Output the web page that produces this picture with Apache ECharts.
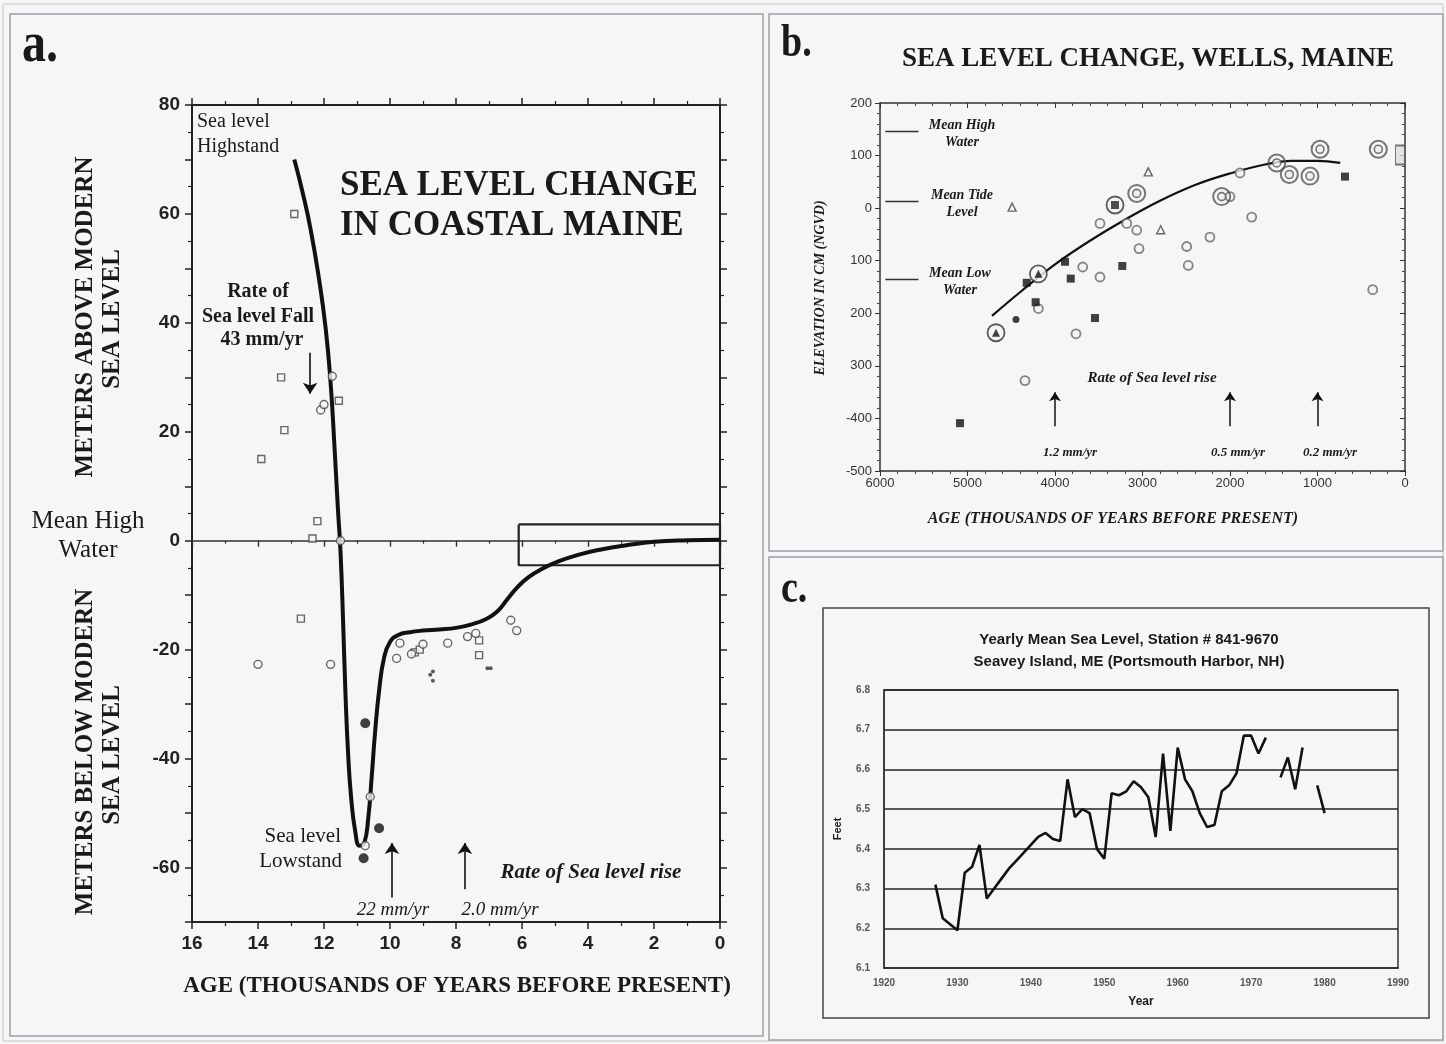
<!DOCTYPE html>
<html>
<head>
<meta charset="utf-8">
<script src="https://cdn.jsdelivr.net/npm/echarts@6.0.0/dist/echarts.min.js"></script>
<style>
  html, body { margin: 0; padding: 0; background: #f3f3f5; }
  #chart { width: 1446px; height: 1044px; }
</style>
</head>
<body>
<div id="chart"></div>
<script>
// ---------- panel a : sea level change in coastal Maine (age in ka, metres) ----------
const aYTicks = [80, 60, 40, 20, 0, -20, -40, -60];
const aCurve = [
  [12.9, 70], [12.65, 64], [12.4, 57], [12.15, 48], [11.95, 39], [11.8, 29], [11.68, 17],
  [11.58, 6], [11.5, -2], [11.42, -15], [11.35, -28], [11.27, -39], [11.18, -47],
  [11.05, -53.5], [10.92, -56], [10.78, -55.5], [10.66, -51], [10.55, -43], [10.45, -35],
  [10.32, -27], [10.18, -21.5], [10.0, -18.6], [9.75, -17.3], [9.4, -16.8], [9.0, -16.5],
  [8.5, -16.3], [8.0, -16.0], [7.5, -15.3], [7.1, -14.4], [6.75, -13], [6.45, -10.8],
  [6.15, -8.6], [5.8, -6.7], [5.4, -5.2], [4.9, -3.8], [4.3, -2.6], [3.6, -1.6],
  [2.8, -0.8], [2.0, -0.2], [1.0, 0.1], [0, 0.2]
];
const aSquares = [
  [12.9, 60], [13.3, 30], [13.2, 20.3], [13.9, 15], [11.55, 25.7], [12.2, 3.6], [12.35, 0.4],
  [12.7, -14.3], [9.25, -20.5], [9.1, -20], [7.3, -18.3], [7.3, -21]
];
const aCircles = [
  [11.75, 30.2], [12.1, 24], [12.0, 25], [11.5, 0], [14.0, -22.7], [11.8, -22.7],
  [10.6, -47], [10.75, -56], [9.8, -21.6], [9.7, -18.8], [9.35, -20.8], [9.0, -19],
  [8.25, -18.8], [7.65, -17.6], [7.4, -17], [6.34, -14.6], [6.16, -16.5]
];
const aFilled = [[10.75, -33.5], [10.33, -52.8], [10.8, -58.3]];
const aSmall = [[8.7, -24], [8.78, -24.6], [8.7, -25.7], [7.05, -23.4], [6.95, -23.4]];
const aBox = [[6.1, 3], [0, 3], [0, -4.5], [6.1, -4.5], [6.1, 3]];
// arrows: [age, from, to]
const aArrows = [[12.42, 34.5, 27], [9.94, -65.5, -55.5], [7.73, -64, -55.5]];

// ---------- panel b : Wells, Maine (age in years, elevation in cm) ----------
const bYTicks = [200, 100, 0, -100, -200, -300, -400, -500];
const bYTickText = ['200', '100', '0', '100', '200', '300', '-400', '-500'];
const bCurve = [
  [4720, -205], [4400, -160], [4000, -107], [3600, -62], [3200, -22], [2800, 14],
  [2400, 44], [2000, 66], [1600, 83], [1300, 90], [1000, 90], [740, 86]
];
const bOpenCircle = [
  [4190, -191], [4343, -328], [3760, -239], [3683, -112], [3486, -131], [3486, -29],
  [3180, -29], [3066, -42], [3040, -77], [2495, -73], [2477, -109], [2229, -55],
  [2000, 22], [1886, 67], [1752, -17], [369, -155]
];
const bDoubleCircle = [[3066, 28], [2095, 22], [1466, 86], [1322, 64], [1086, 61], [971, 112], [305, 112]];
const bFilledSquare = [[4323, -142], [3886, -102], [3820, -134], [4221, -179], [5086, -409], [3543, -209], [3231, -110], [686, 60]];
const bFilledCircle = [[4446, -212]];
const bTriangle = [[4490, 2], [2934, 69], [2792, -41]];
const bCircledTriangle = [[4674, -237], [4190, -125]];
const bCircledFilled = [[3314, 6]];
const bBar = [[57, 101]];
// tide datum levels (cm)
const bDatums = [146, 13, -135];
const bArrowAges = [4000, 2000, 1000];

// ---------- panel c : yearly mean sea level, Seavey Island ----------
const cYears = [];
for (let y = 1927; y <= 1980; y++) cYears.push(y);
const cLevel = [
  6.31, 6.225, 6.21, 6.195, 6.34, 6.355, 6.41, 6.275, 6.30, 6.325,
  6.35, 6.37, 6.39, 6.41, 6.43, 6.44, 6.425, 6.42, 6.575, 6.48,
  6.50, 6.49, 6.40, 6.375, 6.54, 6.535, 6.545, 6.57, 6.555, 6.53,
  6.43, 6.64, 6.445, 6.655, 6.575, 6.545, 6.49, 6.455, 6.46, 6.545,
  6.56, 6.59, 6.685, 6.685, 6.64, 6.68, null, 6.58, 6.63, 6.55,
  6.655, null, 6.56, 6.49
];

const serif = '"Liberation Serif", "Times New Roman", serif';
const sans = '"Liberation Sans", Arial, sans-serif';
const ink = '#1a1a1a';

function txt(x, y, text, font, align, extra) {
  return Object.assign({
    type: 'text', x: x, y: y, z: 20,
    style: { text: text, font: font, fill: ink, align: align || 'center', verticalAlign: 'middle' }
  }, extra || {});
}
function frame(x, y, w, h, stroke, lw) {
  return { type: 'rect', z: 1, shape: { x: x, y: y, width: w, height: h },
    style: { fill: 'none', stroke: stroke, lineWidth: lw } };
}

const chart = echarts.init(document.getElementById('chart'), null, { width: 1446, height: 1044 });

const open = (c) => ({ color: '#f7f7f9', borderColor: c, borderWidth: 1.4 });
const ringStyle = { color: 'rgba(0,0,0,0)', borderColor: '#555', borderWidth: 2 };
const plain = (v) => String(v);

const option = {
  backgroundColor: '#f6f6f8',
  animation: false,
  grid: [
    { left: 192, top: 105, width: 528, height: 817, outerBoundsMode: 'none' },
    { left: 880, top: 103, width: 525, height: 368, outerBoundsMode: 'none' },
    { left: 884, top: 690, width: 514, height: 278, outerBoundsMode: 'none',
      show: true, borderColor: '#333', borderWidth: 1.5, backgroundColor: 'transparent' },
    { left: 192, top: 105, width: 528, height: 817, outerBoundsMode: 'none' }
  ],
  xAxis: [
    { gridIndex: 0, type: 'value', inverse: true, min: 0, max: 16, interval: 2, position: 'bottom',
      axisLine: { onZero: false, lineStyle: { color: '#222', width: 2 } },
      axisTick: { length: 7, lineStyle: { color: '#222', width: 1.5 } },
      minorTick: { show: true, splitNumber: 2, length: 4, lineStyle: { color: '#222', width: 1.2 } },
      axisLabel: { margin: 12, color: '#222', fontSize: 19, fontWeight: 'bold', fontFamily: sans, formatter: plain },
      splitLine: { show: false } },
    { gridIndex: 0, type: 'value', inverse: true, min: 0, max: 16, interval: 2, position: 'top',
      axisLine: { onZero: false, lineStyle: { color: '#222', width: 2 } },
      axisTick: { length: 7, lineStyle: { color: '#222', width: 1.5 } },
      minorTick: { show: true, splitNumber: 2, length: 4, lineStyle: { color: '#222', width: 1.2 } },
      axisLabel: { show: false }, splitLine: { show: false } },
    { gridIndex: 3, type: 'value', inverse: true, min: 0, max: 16, interval: 2,
      axisLine: { onZero: true, lineStyle: { color: '#333', width: 1.6 } },
      axisTick: { length: 6, lineStyle: { color: '#333', width: 1.4 } },
      minorTick: { show: true, splitNumber: 2, length: 3, lineStyle: { color: '#333', width: 1.2 } },
      axisLabel: { show: false }, splitLine: { show: false } },
    { gridIndex: 1, type: 'value', inverse: true, min: 0, max: 6000, interval: 1000, position: 'bottom',
      axisLine: { onZero: false, lineStyle: { color: '#333', width: 1.5 } },
      axisTick: { length: 5, lineStyle: { color: '#333' } },
      minorTick: { show: true, splitNumber: 5, length: 3, lineStyle: { color: '#444' } },
      axisLabel: { margin: 6, color: '#333', fontSize: 13, fontFamily: sans, formatter: plain },
      splitLine: { show: false } },
    { gridIndex: 1, type: 'value', inverse: true, min: 0, max: 6000, interval: 1000, position: 'top',
      axisLine: { onZero: false, lineStyle: { color: '#333', width: 1.5 } },
      axisTick: { inside: true, length: 5, lineStyle: { color: '#333' } },
      minorTick: { show: true, splitNumber: 5, length: 3, lineStyle: { color: '#444' } },
      axisLabel: { show: false }, splitLine: { show: false } },
    { gridIndex: 2, type: 'value', min: 1920, max: 1990, interval: 10,
      axisLine: { onZero: false, lineStyle: { color: '#333', width: 1.5 } },
      axisTick: { show: false },
      axisLabel: { margin: 10, color: '#555', fontSize: 10, fontWeight: 'bold', fontFamily: sans, formatter: plain },
      splitLine: { show: false } }
  ],
  yAxis: [
    { gridIndex: 0, type: 'value', min: -70, max: 80, interval: 10, position: 'left',
      axisLine: { show: true, onZero: false, lineStyle: { color: '#222', width: 2 } },
      axisTick: { show: true, length: 7, lineStyle: { color: '#222', width: 1.5 } },
      minorTick: { show: true, splitNumber: 2, length: 4, lineStyle: { color: '#222', width: 1.2 } },
      axisLabel: { margin: 12, color: '#222', fontSize: 19, fontWeight: 'bold', fontFamily: sans,
        formatter: (v) => (aYTicks.indexOf(v) >= 0 ? String(v) : '') },
      splitLine: { show: false } },
    { gridIndex: 0, type: 'value', min: -70, max: 80, interval: 10, position: 'right',
      axisLine: { show: true, onZero: false, lineStyle: { color: '#222', width: 2 } },
      axisTick: { show: true, length: 7, lineStyle: { color: '#222', width: 1.5 } },
      minorTick: { show: true, splitNumber: 2, length: 4, lineStyle: { color: '#222', width: 1.2 } },
      axisLabel: { show: false }, splitLine: { show: false } },
    { gridIndex: 3, type: 'value', min: -70, max: 80, show: false },
    { gridIndex: 1, type: 'value', min: -500, max: 200, interval: 100, position: 'left',
      axisLine: { show: true, onZero: false, lineStyle: { color: '#333', width: 1.5 } },
      axisTick: { show: true, length: 5, lineStyle: { color: '#333' } },
      minorTick: { show: true, splitNumber: 5, length: 3, lineStyle: { color: '#444' } },
      axisLabel: { margin: 8, color: '#333', fontSize: 13, fontFamily: sans,
        formatter: (v) => { const i = bYTicks.indexOf(v); return i >= 0 ? bYTickText[i] : ''; } },
      splitLine: { show: false } },
    { gridIndex: 1, type: 'value', min: -500, max: 200, interval: 100, position: 'right',
      axisLine: { show: true, onZero: false, lineStyle: { color: '#333', width: 1.5 } },
      axisTick: { show: true, inside: true, length: 5, lineStyle: { color: '#333' } },
      minorTick: { show: true, splitNumber: 5, length: 3, lineStyle: { color: '#444' } },
      axisLabel: { show: false }, splitLine: { show: false } },
    { gridIndex: 2, type: 'value', min: 6.1, max: 6.8, interval: 0.1,
      axisLine: { show: true, onZero: false, lineStyle: { color: '#333', width: 1.5 } },
      axisTick: { show: false },
      axisLabel: { margin: 14, color: '#555', fontSize: 10, fontWeight: 'bold', fontFamily: sans,
        formatter: (v) => v.toFixed(1) },
      splitLine: { show: true, lineStyle: { color: '#222', width: 1.6 } } }
  ],
  series: [
    // ---- panel a ----
    { type: 'line', xAxisIndex: 0, yAxisIndex: 0, data: aBox, symbol: 'none',
      lineStyle: { color: '#222', width: 2.2 }, z: 3 },
    { type: 'line', xAxisIndex: 0, yAxisIndex: 0, data: aCurve, symbol: 'none', smooth: 0.5,
      lineStyle: { color: '#111', width: 4 }, z: 4 },
    { type: 'scatter', xAxisIndex: 0, yAxisIndex: 0, data: aSquares, symbol: 'rect', symbolSize: 7,
      itemStyle: open('#444'), z: 5 },
    { type: 'scatter', xAxisIndex: 0, yAxisIndex: 0, data: aCircles, symbol: 'circle', symbolSize: 8,
      itemStyle: open('#444'), z: 5 },
    { type: 'scatter', xAxisIndex: 0, yAxisIndex: 0, data: aFilled, symbol: 'circle', symbolSize: 10,
      itemStyle: { color: '#111' }, z: 5 },
    { type: 'scatter', xAxisIndex: 0, yAxisIndex: 0, data: aSmall, symbol: 'circle', symbolSize: 4,
      itemStyle: { color: '#333' }, z: 5 },
    { type: 'lines', coordinateSystem: 'cartesian2d', xAxisIndex: 0, yAxisIndex: 0,
      symbol: ['none', 'arrow'], symbolSize: 11,
      lineStyle: { color: '#111', width: 1.6, opacity: 1 },
      data: aArrows.map((a) => ({ coords: [[a[0], a[1]], [a[0], a[2]]] })), z: 6 },
    // ---- panel b ----
    { type: 'lines', coordinateSystem: 'cartesian2d', xAxisIndex: 3, yAxisIndex: 3,
      symbol: ['none', 'none'], lineStyle: { color: '#333', width: 1.3, opacity: 1 },
      data: bDatums.map((d) => ({ coords: [[5940, d], [5560, d]] })) },
    { type: 'lines', coordinateSystem: 'cartesian2d', xAxisIndex: 3, yAxisIndex: 3,
      symbol: ['none', 'arrow'], symbolSize: 9, lineStyle: { color: '#111', width: 1.5, opacity: 1 },
      data: bArrowAges.map((a) => ({ coords: [[a, -415], [a, -350]] })) },
    { type: 'line', xAxisIndex: 3, yAxisIndex: 3, data: bCurve, symbol: 'none', smooth: 0.4,
      lineStyle: { color: '#111', width: 2.2 }, z: 3 },
    { type: 'scatter', xAxisIndex: 3, yAxisIndex: 3, data: bOpenCircle, symbolSize: 9,
      itemStyle: { color: '#f4f4f4', borderColor: '#666', borderWidth: 1.8 }, z: 5 },
    { type: 'scatter', xAxisIndex: 3, yAxisIndex: 3, data: bDoubleCircle, symbolSize: 17,
      itemStyle: ringStyle, z: 5 },
    { type: 'scatter', xAxisIndex: 3, yAxisIndex: 3, data: bDoubleCircle, symbolSize: 8,
      itemStyle: { color: '#eee', borderColor: '#555', borderWidth: 1.6 }, z: 6 },
    { type: 'scatter', xAxisIndex: 3, yAxisIndex: 3, data: bFilledSquare, symbol: 'rect', symbolSize: 8,
      itemStyle: { color: '#111' }, z: 6 },
    { type: 'scatter', xAxisIndex: 3, yAxisIndex: 3, data: bFilledCircle, symbolSize: 7,
      itemStyle: { color: '#111' }, z: 6 },
    { type: 'scatter', xAxisIndex: 3, yAxisIndex: 3, data: bTriangle, symbol: 'triangle', symbolSize: 8,
      itemStyle: { color: '#f4f4f4', borderColor: '#444', borderWidth: 1.4 }, z: 6 },
    { type: 'scatter', xAxisIndex: 3, yAxisIndex: 3, data: bCircledTriangle.concat(bCircledFilled),
      symbolSize: 17, itemStyle: { color: '#f4f4f4', borderColor: '#333', borderWidth: 1.8 }, z: 5 },
    { type: 'scatter', xAxisIndex: 3, yAxisIndex: 3, data: bCircledTriangle, symbol: 'triangle', symbolSize: 8,
      itemStyle: { color: '#111' }, z: 6 },
    { type: 'scatter', xAxisIndex: 3, yAxisIndex: 3, data: bCircledFilled, symbol: 'rect', symbolSize: 8,
      itemStyle: { color: '#222' }, z: 6 },
    { type: 'scatter', xAxisIndex: 3, yAxisIndex: 3, data: bBar, symbol: 'rect', symbolSize: [9, 19],
      itemStyle: { color: '#ddd', borderColor: '#555', borderWidth: 1.4 }, z: 6 },
    // ---- panel c ----
    { type: 'line', xAxisIndex: 5, yAxisIndex: 5, data: cYears.map((y, i) => [y, cLevel[i]]),
      symbol: 'none', connectNulls: false, lineStyle: { color: '#111', width: 2.6 }, z: 4 }
  ],
  graphic: [
    frame(3, 4, 1440, 1037, '#c4c4c8', 1),
    frame(10, 14, 753, 1022, '#a0a0a4', 1.5),
    frame(769, 14, 674, 537, '#a0a0a4', 1.5),
    frame(769, 557, 674, 483, '#a0a0a4', 1.5),
    frame(823, 608, 606, 410, '#444', 1.5),

    // panel a texts
    txt(22, 46, 'a.', 'bold 48px ' + serif, 'left', { scaleY: 1.2 }),
    txt(340, 186, 'SEA LEVEL CHANGE', 'bold 35px ' + serif, 'left'),
    txt(340, 226, 'IN COASTAL MAINE', 'bold 35px ' + serif, 'left'),
    txt(197, 122, 'Sea level', '20px ' + serif, 'left'),
    txt(197, 147, 'Highstand', '20px ' + serif, 'left'),
    txt(258, 292, 'Rate of', 'bold 20px ' + serif),
    txt(258, 317, 'Sea level Fall', 'bold 20px ' + serif),
    txt(262, 340, '43 mm/yr', 'bold 20px ' + serif),
    txt(88, 521, 'Mean High', '25px ' + serif),
    txt(88, 550, 'Water', '25px ' + serif),
    txt(341, 836, 'Sea level', '21px ' + serif, 'right'),
    txt(342, 861, 'Lowstand', '21px ' + serif, 'right'),
    txt(393, 910, '22 mm/yr', 'italic 19px ' + serif),
    txt(500, 910, '2.0 mm/yr', 'italic 19px ' + serif),
    txt(591, 873, 'Rate of Sea level rise', 'bold italic 21px ' + serif),
    txt(86, 317, 'METERS ABOVE MODERN', 'bold 25px ' + serif, 'center', { rotation: Math.PI / 2 }),
    txt(113, 319, 'SEA LEVEL', 'bold 25px ' + serif, 'center', { rotation: Math.PI / 2 }),
    txt(86, 752, 'METERS BELOW MODERN', 'bold 25px ' + serif, 'center', { rotation: Math.PI / 2 }),
    txt(113, 755, 'SEA LEVEL', 'bold 25px ' + serif, 'center', { rotation: Math.PI / 2 }),
    txt(457, 986, 'AGE (THOUSANDS OF YEARS BEFORE PRESENT)', 'bold 23px ' + serif),

    // panel b texts
    txt(781, 44, 'b.', 'bold 38px ' + serif, 'left', { scaleY: 1.2 }),
    txt(1148, 59, 'SEA LEVEL CHANGE, WELLS, MAINE', 'bold 27px ' + serif),
    txt(962, 125, 'Mean High', 'bold italic 14px ' + serif),
    txt(962, 142, 'Water', 'bold italic 14px ' + serif),
    txt(962, 195, 'Mean Tide', 'bold italic 14px ' + serif),
    txt(962, 212, 'Level', 'bold italic 14px ' + serif),
    txt(960, 273, 'Mean Low', 'bold italic 14px ' + serif),
    txt(960, 290, 'Water', 'bold italic 14px ' + serif),
    txt(1152, 378, 'Rate of Sea level rise', 'bold italic 15px ' + serif),
    txt(1070, 453, '1.2 mm/yr', 'bold italic 13px ' + serif),
    txt(1238, 453, '0.5 mm/yr', 'bold italic 13px ' + serif),
    txt(1330, 453, '0.2 mm/yr', 'bold italic 13px ' + serif),
    txt(820, 288, 'ELEVATION IN CM (NGVD)', 'bold italic 14px ' + serif, 'center', { rotation: Math.PI / 2 }),
    txt(1113, 519, 'AGE (THOUSANDS OF YEARS BEFORE PRESENT)', 'bold italic 16px ' + serif),

    // panel c texts
    txt(781, 590, 'c.', 'bold 38px ' + serif, 'left', { scaleY: 1.2 }),
    txt(1129, 640, 'Yearly Mean Sea Level, Station # 841-9670', 'bold 15px ' + sans),
    txt(1129, 662, 'Seavey Island, ME (Portsmouth Harbor, NH)', 'bold 15px ' + sans),
    txt(838, 829, 'Feet', 'bold 11px ' + sans, 'center', { rotation: Math.PI / 2 }),
    txt(1141, 1002, 'Year', 'bold 12px ' + sans)
  ]
};

chart.setOption(option);
</script>
</body>
</html>
